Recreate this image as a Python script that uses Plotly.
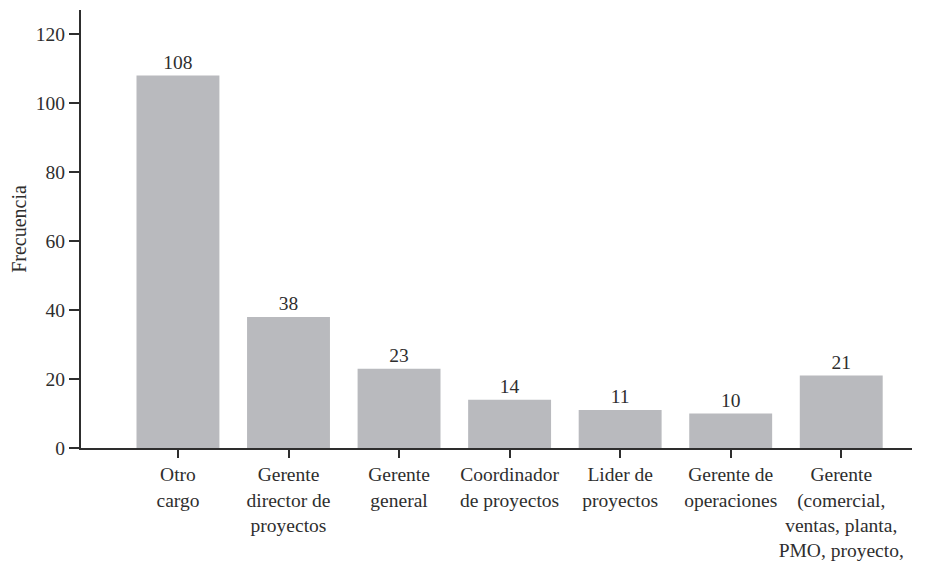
import plotly.graph_objects as go

# Frecuencia por cargo
cargos = ["Otro<br>cargo", "Gerente<br>director de<br>proyectos", "Gerente<br>general",
          "Coordinador<br>de proyectos", "Lider de<br>proyectos", "Gerente de<br>operaciones",
          "Gerente<br>(comercial,<br>ventas, planta,<br>PMO, proyecto,"]
frecuencia = [108, 38, 23, 14, 11, 10, 21]
y_ticks = [0, 20, 40, 60, 80, 100, 120]

serif = "Liberation Serif, Times New Roman, serif"
ink = "#2e2e2e"

fig = go.Figure()
fig.add_trace(go.Bar(
    x=list(range(len(cargos))),
    y=frecuencia,
    width=0.75,
    marker=dict(color="#b9babe", line=dict(width=0)),
    text=[str(v) for v in frecuencia],
    textposition="outside",
    textfont=dict(family=serif, size=19.5, color=ink),
    cliponaxis=False,
))

# the page body adds an 8px offset, margins compensate for it
fig.update_layout(
    width=927, height=562,
    margin=dict(l=73, r=23, t=2, b=122),
    paper_bgcolor="white", plot_bgcolor="white",
    showlegend=False,
    font=dict(family=serif, color=ink),
)
fig.update_xaxes(
    range=[-0.877, 6.64],
    tickvals=list(range(len(cargos))), ticktext=cargos,
    tickfont=dict(family=serif, size=19.5, color=ink),
    showline=True, linecolor=ink, linewidth=2,
    ticks="outside", ticklen=8, tickwidth=2, tickcolor=ink,
    showgrid=False, zeroline=False, tickangle=0, automargin=False,
)
fig.update_yaxes(
    range=[0, 127],
    tickvals=y_ticks,
    tickfont=dict(family=serif, size=19.5, color=ink),
    showline=True, linecolor=ink, linewidth=2,
    ticks="outside", ticklen=10, tickwidth=2, tickcolor=ink,
    showgrid=False, zeroline=False, automargin=False,
    title=dict(text="Frecuencia", font=dict(family=serif, size=20, color=ink), standoff=14),
)

fig.write_html("out.html")
